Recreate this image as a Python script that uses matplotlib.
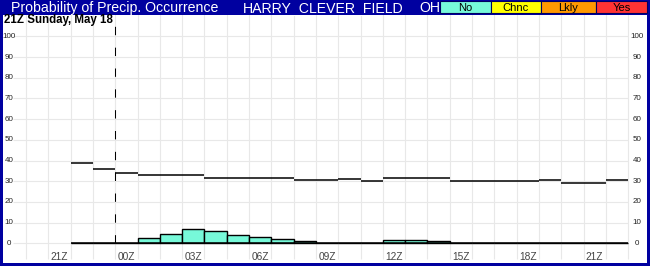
import matplotlib
matplotlib.use('Agg')
import matplotlib.pyplot as plt
from matplotlib.patches import Rectangle
import numpy as np

plt.rcParams['font.family'] = ['Liberation Sans', 'DejaVu Sans']

# hourly cells, cell i spans [i, i+1]
cells = np.arange(2, 27)
pop_line = [39, 36, 34, 33, 33, 33, 31.5, 31.5, 31.5, 31.5, 30.5, 30.5, 31,
            30, 31.5, 31.5, 31.5, 30, 30, 30, 30, 30.5, 29, 29, 30.5]
occurrence = [0, 0, 0, 2.4, 4.7, 6.8, 5.8, 4.2, 2.9, 1.9, 1.0, 0, 0, 0,
              1.5, 1.5, 1.0, 0, 0, 0, 0, 0, 0, 0, 0]
xtick_pos = [1.5, 4.5, 7.5, 10.5, 13.5, 16.5, 19.5, 22.5, 25.5]
xtick_labels = ['21Z', '00Z', '03Z', '06Z', '09Z', '12Z', '15Z', '18Z', '21Z']
ytick_vals = list(range(0, 101, 10))
now_hour = 4

legend_labels = ['No', 'Chnc', 'Lkly', 'Yes']
legend_colors = ['#77F9D9', '#FFFF00', '#FF9900', '#FF3333']
legend_edges = [440, 490.7, 540.7, 595.7, 647]

W, H = 650, 266
HEADER = 14.5
BLUE = '#0000A0'

fig = plt.figure(figsize=(W / 100, H / 100), dpi=100)
fig.patch.set_facecolor(BLUE)

# plot area (white region inside the blue frame)
ax = fig.add_axes([3 / W, 3 / H, 644 / W, (H - 3 - HEADER) / H])
ax.set_facecolor('white')
px_per_hr = 22.3
x0 = 26
ax.set_xlim((3 - x0) / px_per_hr, (647 - x0) / px_per_hr)
zero_px, px_per_unit = 243.3, 2.07
ax.set_ylim((zero_px - 263) / px_per_unit, (zero_px - HEADER) / px_per_unit)
for s in ax.spines.values():
    s.set_visible(False)
ax.set_xticks([])
ax.set_yticks([])

# grid
ax.vlines(np.arange(0, 28), -7.6, 111, color='#E8E8E8', lw=0.8, zorder=0)
ax.hlines(ytick_vals, -0.6, 27, color='#E8E8E8', lw=0.8, zorder=0)

# occurrence bars
ax.bar(cells + 0.5, occurrence, width=1, color=legend_colors[0],
       edgecolor='black', linewidth=1.0, zorder=2)
ax.hlines(0, cells[0], cells[-1] + 1, color='black', lw=1.1, zorder=3)

# probability step line
ax.hlines(pop_line, cells, cells + 1, color='black', lw=1.1, zorder=3)

# current time marker
ax.vlines(now_hour, 0, 111, color='black', lw=0.75,
          linestyle=(0, (8, 12)), zorder=3)

# tick labels
for v in ytick_vals:
    ax.text(-0.75, v, str(v), ha='center', va='center', fontsize=5.8,
            color='#222222')
    ax.text(27.4, v, str(v), ha='center', va='center', fontsize=5.8,
            color='#222222')
for p, lab in zip(xtick_pos, xtick_labels):
    ax.text(p, (zero_px - 256.5) / px_per_unit, lab, ha='center', va='center',
            fontsize=7.3, color='#444444')

ax.text(-0.98, (zero_px - 23.4) / px_per_unit, '21Z Sunday, May 18',
        ha='left', va='baseline', fontsize=8.3, fontweight='bold',
        color='black')

# header
def fy(y):
    return 1 - y / H

fig.text(11 / W, fy(11.8), 'Probability of Precip. Occurrence', ha='left',
         va='baseline', fontsize=10.2, color='white')
fig.text(323.5 / W, fy(11.8), 'HARRY_CLEVER_FIELD', ha='center',
         va='baseline', fontsize=10.2, color='white')
fig.text(429.5 / W, fy(11.8), 'OH', ha='center', va='baseline', fontsize=10.2,
         color='white')

for lab, col, a, b in zip(legend_labels, legend_colors, legend_edges[:-1],
                          legend_edges[1:]):
    fig.add_artist(Rectangle((a / W, fy(13.3)), (b - a) / W, 12.3 / H,
                             transform=fig.transFigure, facecolor=col,
                             edgecolor='#000060', lw=0.8))
    fig.text((a + b) / 2 / W, fy(10.9), lab, ha='center', va='baseline',
             fontsize=8, color='black')

fig.savefig('out.png', dpi=100, facecolor=fig.get_facecolor())
